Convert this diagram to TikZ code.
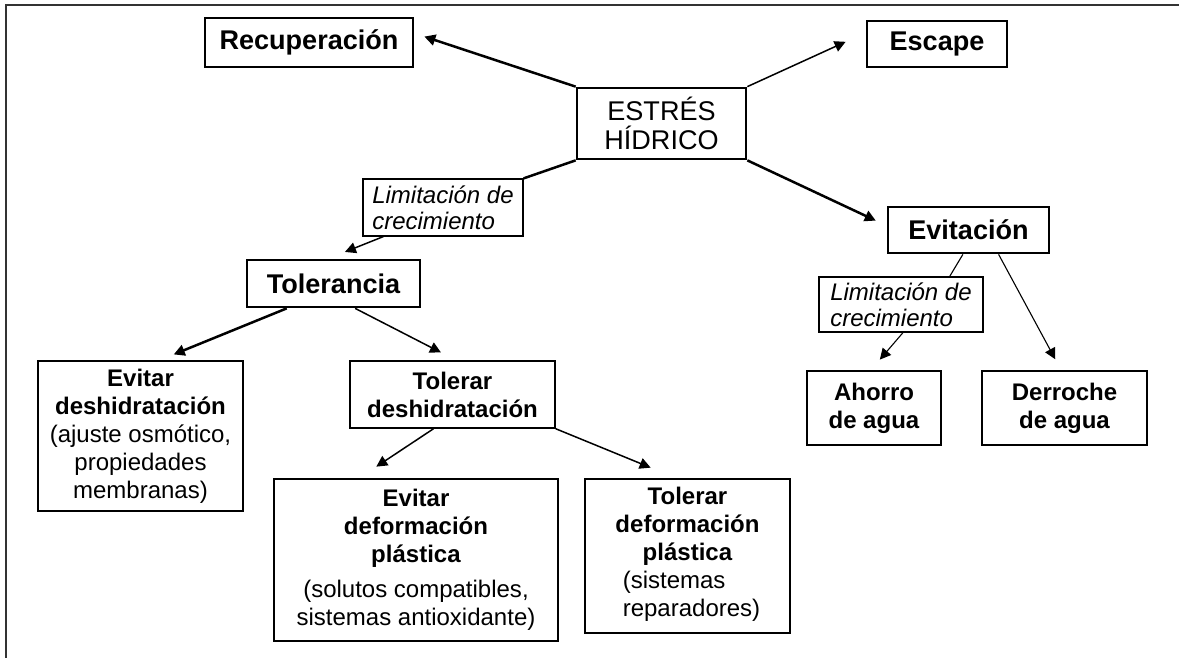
\documentclass[tikz,border=0pt]{standalone}
\usepackage{fontspec}
\setmainfont{Liberation Sans}
\usepackage{tikz}
\usetikzlibrary{arrows.meta}

\begin{document}
\begin{tikzpicture}[x=0.02cm, y=-0.02cm, anchor=center,
        >={Triangle[length=0.22cm, width=0.22cm]},
        bigbox/.style={draw, line width=0.055cm, inner sep=0pt, align=center,
            font=\fontsize{15.4}{16.4}\selectfont},
        smallbox/.style={draw, line width=0.03cm, inner sep=0pt, align=center,
            font=\fontsize{13.66}{15.9}\selectfont},
        limbox/.style={draw, line width=0.025cm, inner sep=0pt, align=left,
            font=\fontsize{13.66}{14.8}\selectfont\itshape},
        thickarrow/.style={->, line width=0.05cm},
        thinarrow/.style={->, line width=0.03cm}]
    \useasboundingbox (0,0) rectangle (1179,658);
    \draw[line width=0.04cm, black!80] (1179,5) -- (6,5) -- (6,658);

    \node (recup) at (309, 42.5) [bigbox, minimum width=4.16cm, minimum height=0.98cm] {\bfseries Recuperación};
    \node (escape) at (937, 44) [bigbox, minimum width=2.8cm, minimum height=0.92cm] {\bfseries Escape};
    \node (stress) at (661.5, 123.5) [bigbox, minimum width=3.38cm, minimum height=1.42cm] {ESTRÉS\\HÍDRICO};
    \node (lim1) at (443, 207.5) [limbox, minimum width=3.2cm, minimum height=1.14cm] {Limitación de\\crecimiento};
    \node (toler) at (333.5, 283.5) [bigbox, minimum width=3.46cm, minimum height=0.94cm] {\bfseries Tolerancia};
    \node (evit) at (968.5, 230) [bigbox, minimum width=3.22cm, minimum height=0.92cm] {\bfseries Evitación};
    \node (lim2) at (901, 304.5) [limbox, minimum width=3.28cm, minimum height=1.1cm] {Limitación de\\crecimiento};

    \node (evdesh) at (140.5, 436) [smallbox, minimum width=4.1cm, minimum height=3cm]
        {\textbf{Evitar}\\\textbf{deshidratación}\\(ajuste osmótico,\\propiedades\\membranas)};
    \node (toldesh) at (452.5, 394.5) [smallbox, minimum width=4.1cm, minimum height=1.34cm]
        {\textbf{Tolerar}\\\textbf{deshidratación}};
    \node (evdef) at (416, 560) [smallbox, minimum width=5.68cm, minimum height=3.24cm]
        {\textbf{Evitar}\\\textbf{deformación}\\\textbf{plástica}\\[0.14cm](solutos compatibles,\\sistemas antioxidante)};
    \node (toldef) at (687.5, 556) [smallbox, minimum width=4.1cm, minimum height=3.08cm]
        {\textbf{Tolerar}\\\textbf{deformación}\\\textbf{plástica}\\\hspace*{0.16cm}\begin{tabular}[t]{@{}l@{}}(sistemas\\reparadores)\end{tabular}};
    \node (ahorro) at (874, 408) [smallbox, minimum width=2.68cm, minimum height=1.48cm]
        {\textbf{Ahorro}\\\textbf{de agua}};
    \node (derroche) at (1064.5, 408) [smallbox, minimum width=3.3cm, minimum height=1.48cm]
        {\textbf{Derroche}\\\textbf{de agua}};

    % from the centre
    \draw[thickarrow, shorten >=0.21cm] (stress.north west) to (recup.5);
    \draw[thinarrow, shorten >=0.44cm] (stress.north east) to (escape.171);
    \draw[thickarrow, shorten >=0.24cm] (stress.south east) to (evit.177);
    \draw[line width=0.05cm] (stress.south west) to (lim1.north east);
    \draw[thinarrow, shorten >=0.36cm] (lim1.206) to (toler.102);

    % tolerancia side
    \draw[thickarrow, shorten >=0.31cm] (toler.208) to (evdesh.76);
    \draw[thinarrow, shorten >=0.34cm] (toler.-49) to (toldesh.84);
    \draw[thinarrow, shorten >=0.42cm] (toldesh.-119) to (evdef.125);
    \draw[thinarrow, shorten >=0.56cm] (toldesh.south east) to (toldef.98);

    % evitacion side
    \draw[line width=0.022cm] (evit.-103) to (lim2.30);
    \draw[->, line width=0.022cm, shorten >=0.28cm] (lim2.-86) to (ahorro.95);
    \draw[->, line width=0.022cm, shorten >=0.25cm] (evit.-39) to (derroche.95);
\end{tikzpicture}
\end{document}
